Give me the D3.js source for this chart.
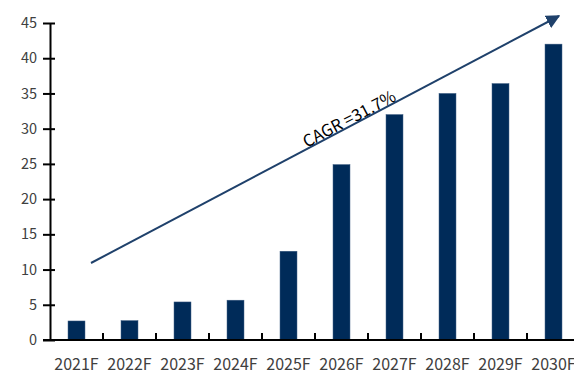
<!DOCTYPE html>
<html>
<head>
<meta charset="utf-8">
<script src="https://cdn.jsdelivr.net/npm/d3@7"></script>
<style>
  html, body { margin: 0; padding: 0; background: #fff; }
  svg { display: block; font-family: "Noto Sans CJK SC", "Noto Sans", sans-serif; }
</style>
</head>
<body>
<svg id="chart" width="574" height="374"></svg>
<script>
// values
const years = ["2021F", "2022F", "2023F", "2024F", "2025F", "2026F", "2027F", "2028F", "2029F", "2030F"];
const values = [2.7, 2.75, 5.4, 5.65, 12.6, 24.9, 32.0, 35.0, 36.4, 42.0];
const yTicks = [0, 5, 10, 15, 20, 25, 30, 35, 40, 45];
const cagrLabel = "CAGR =31.7%";

const svg = d3.select("#chart");
const m = { left: 50, top: 23, bottom: 34 };
const plotW = 530, H = 374;

const x = d3.scaleBand().domain(years).range([m.left, m.left + plotW]).paddingInner(0.68).paddingOuter(0.34);
const y = d3.scaleLinear().domain([0, 45]).range([H - m.bottom, m.top]);

// bars
svg.selectAll("rect.bar").data(values).enter()
  .append("rect").attr("class", "bar")
  .attr("x", (d, i) => x(years[i]))
  .attr("y", d => y(d))
  .attr("width", x.bandwidth())
  .attr("height", d => y(0) - y(d))
  .attr("fill", "#002b59")
  .attr("stroke", "#3a5a80").attr("stroke-width", 0.5);

// y axis
const yAxis = svg.append("g").attr("transform", `translate(${m.left},0)`)
  .call(d3.axisLeft(y).tickValues(yTicks).tickSize(0).tickPadding(13));
yAxis.select(".domain").attr("stroke", "#000").attr("stroke-width", 2);
yAxis.selectAll(".tick text").attr("fill", "#404040").style("font-size", "14.5px")
  .style("font-family", "'Noto Sans CJK SC', sans-serif");
yAxis.selectAll(".tick").append("line").attr("x1", -7).attr("x2", 5)
  .attr("stroke", "#000").attr("stroke-width", 2);

// x axis: baseline plus small upward separators between categories
const gap = x.step() - x.bandwidth();
const xAxis = svg.append("g").attr("transform", `translate(0,${y(0)})`);
xAxis.append("line").attr("x1", m.left - 7).attr("x2", m.left + plotW)
  .attr("stroke", "#000").attr("stroke-width", 2);
xAxis.selectAll("line.sep").data(years.slice(1)).enter()
  .append("line").attr("class", "sep")
  .attr("x1", d => x(d) - gap / 2).attr("x2", d => x(d) - gap / 2)
  .attr("y1", 0).attr("y2", -7)
  .attr("stroke", "#000").attr("stroke-width", 2);
xAxis.selectAll("text").data(years).enter()
  .append("text")
  .attr("x", d => x(d) + x.bandwidth() / 2)
  .attr("y", 30)
  .attr("text-anchor", "middle")
  .attr("fill", "#404040")
  .style("font-size", "16px")
  .text(d => d);

// CAGR arrow
const a0 = [91, 263], a1 = [559, 16];
svg.append("defs").append("marker").attr("id", "head")
  .attr("viewBox", "0 0 10 10").attr("refX", 9).attr("refY", 5)
  .attr("markerWidth", 7).attr("markerHeight", 7).attr("markerUnits", "strokeWidth")
  .attr("orient", "auto")
  .append("path").attr("d", "M0,0L10,5L0,10Z").attr("fill", "#1f416b");
svg.append("line")
  .attr("x1", a0[0]).attr("y1", a0[1]).attr("x2", a1[0]).attr("y2", a1[1])
  .attr("stroke", "#1f416b").attr("stroke-width", 2)
  .attr("marker-end", "url(#head)");

const ang = Math.atan2(a1[1] - a0[1], a1[0] - a0[0]) * 180 / Math.PI;
svg.append("text")
  .attr("transform", `translate(352,124) rotate(${ang})`)
  .attr("text-anchor", "middle")
  .attr("fill", "#000")
  .style("font-size", "16.5px")
  .text(cagrLabel);
</script>
</body>
</html>
